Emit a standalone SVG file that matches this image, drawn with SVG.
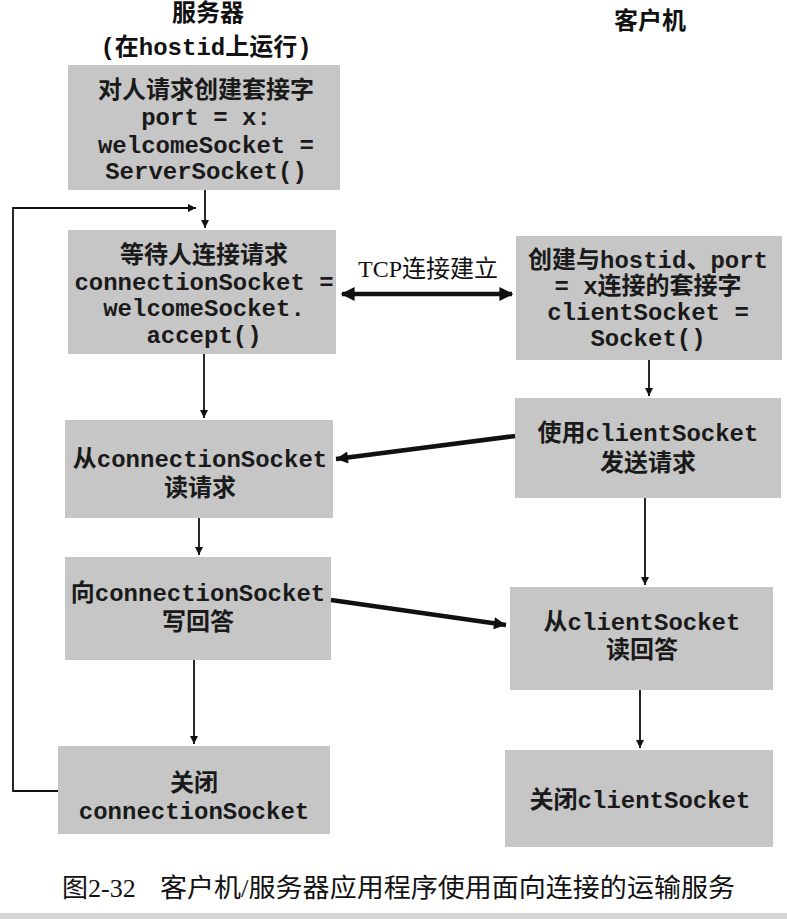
<svg xmlns="http://www.w3.org/2000/svg" width="787" height="919" viewBox="0 0 787 919">
<defs>
<style>
.box{fill:#c6c6c6;}
.t{font-family:"Liberation Mono","Noto Sans CJK SC",monospace;font-weight:bold;font-size:24px;fill:#1a1a1a;text-anchor:middle;}
.h{font-family:"Liberation Mono","Noto Sans CJK SC",monospace;font-weight:bold;font-size:24px;fill:#111;text-anchor:middle;}
.lab{font-family:"Liberation Serif","Noto Sans CJK SC",serif;font-size:24px;fill:#111;text-anchor:middle;}
.cap{font-family:"Liberation Serif","Noto Sans CJK SC",serif;font-size:26px;fill:#111;}
.thin{stroke:#111;stroke-width:1.8;fill:none;}
.thick{stroke:#111;stroke-width:4.5;fill:none;}
</style>
<marker id="a" viewBox="0 0 10 10" refX="10" refY="5" markerWidth="8" markerHeight="9" markerUnits="userSpaceOnUse" orient="auto"><path d="M0,0 L10,5 L0,10 z" fill="#111"/></marker>
<marker id="as" viewBox="0 0 10 10" refX="10" refY="5" markerWidth="14" markerHeight="12" markerUnits="userSpaceOnUse" orient="auto"><path d="M0,0 L10,5 L0,10 z" fill="#111"/></marker>
<marker id="ab" viewBox="0 0 10 10" refX="9" refY="5" markerWidth="16" markerHeight="14" markerUnits="userSpaceOnUse" orient="auto-start-reverse"><path d="M0,0 L10,5 L0,10 z" fill="#111"/></marker>
</defs>
<rect width="787" height="919" fill="#fff"/>
<rect x="0" y="913" width="787" height="6" fill="#d4d4d4"/>

<g id="titles">
<text class="h" x="208" y="21">服务器</text>
<text class="h" x="206" y="55">(在hostid上运行)</text>
<text class="h" x="650" y="29">客户机</text>
</g>

<g id="s1">
<rect class="box" x="68" y="65" width="272" height="125"/>
<text class="t" x="206" y="98">对人请求创建套接字</text>
<text class="t" x="206" y="125">port = x:</text>
<text class="t" x="206" y="153">welcomeSocket =</text>
<text class="t" x="206" y="179">ServerSocket()</text>
</g>

<g id="s2">
<rect class="box" x="68" y="230" width="268" height="124"/>
<text class="t" x="204" y="263">等待人连接请求</text>
<text class="t" x="204" y="290">connectionSocket =</text>
<text class="t" x="204" y="316">welcomeSocket.</text>
<text class="t" x="204" y="343">accept()</text>
</g>

<g id="c1">
<rect class="box" x="516" y="236" width="266" height="124"/>
<text class="t" x="648" y="268">创建与hostid、port</text>
<text class="t" x="648" y="294">= x连接的套接字</text>
<text class="t" x="648" y="320">clientSocket =</text>
<text class="t" x="648" y="346">Socket()</text>
</g>

<g id="s3">
<rect class="box" x="65" y="420" width="268" height="98"/>
<text class="t" x="200" y="467">从connectionSocket</text>
<text class="t" x="200" y="496">读请求</text>
</g>

<g id="c2">
<rect class="box" x="515" y="398" width="266" height="100"/>
<text class="t" x="648" y="441">使用clientSocket</text>
<text class="t" x="648" y="471">发送请求</text>
</g>

<g id="s4">
<rect class="box" x="65" y="557" width="266" height="103"/>
<text class="t" x="198" y="601">向connectionSocket</text>
<text class="t" x="198" y="630">写回答</text>
</g>

<g id="c3">
<rect class="box" x="510" y="587" width="263" height="103"/>
<text class="t" x="642" y="630">从clientSocket</text>
<text class="t" x="642" y="658">读回答</text>
</g>

<g id="s5">
<rect class="box" x="58" y="746" width="272" height="88"/>
<text class="t" x="194" y="791">关闭</text>
<text class="t" x="194" y="819">connectionSocket</text>
</g>

<g id="c4">
<rect class="box" x="505" y="750" width="268" height="97"/>
<text class="t" x="640" y="808">关闭clientSocket</text>
</g>

<g id="connectors">
<line class="thin" x1="205" y1="190" x2="205" y2="228" marker-end="url(#a)"/>
<polyline class="thin" points="58,791 13,791 13,208 196,208" marker-end="url(#a)"/>
<line class="thick" x1="342" y1="294" x2="512" y2="294" marker-start="url(#ab)" marker-end="url(#ab)"/>
<text class="lab" x="428" y="277">TCP连接建立</text>
<line class="thin" x1="649" y1="360" x2="649" y2="396" marker-end="url(#a)"/>
<line class="thin" x1="204" y1="354" x2="204" y2="418" marker-end="url(#a)"/>
<line class="thick" x1="515" y1="436" x2="336" y2="459" marker-end="url(#as)"/>
<line class="thin" x1="199" y1="518" x2="199" y2="555" marker-end="url(#a)"/>
<line class="thin" x1="645" y1="498" x2="645" y2="585" marker-end="url(#a)"/>
<line class="thick" x1="331" y1="600" x2="506" y2="625" marker-end="url(#as)"/>
<line class="thin" x1="194" y1="660" x2="194" y2="744" marker-end="url(#a)"/>
<line class="thin" x1="640" y1="690" x2="640" y2="748" marker-end="url(#a)"/>
</g>

<g id="caption">
<text class="cap" x="62" y="897">图2-32</text>
<text class="cap" x="160" y="897" textLength="575" lengthAdjust="spacingAndGlyphs">客户机/服务器应用程序使用面向连接的运输服务</text>
</g>
</svg>
